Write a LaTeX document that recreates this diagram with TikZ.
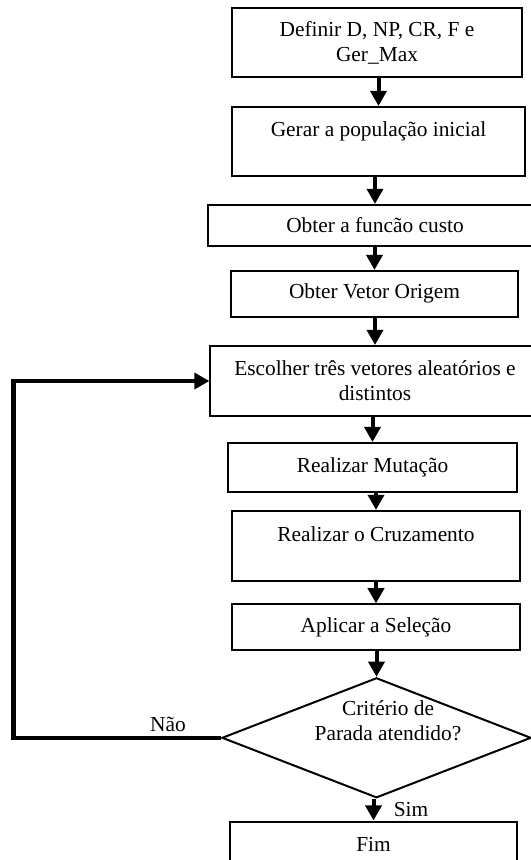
\documentclass[tikz,border=0pt]{standalone}
\usepackage{fontspec}
\setmainfont{Liberation Serif}
\usetikzlibrary{shapes.geometric,arrows.meta}

\begin{document}
\begin{tikzpicture}[x=0.025cm, y=-0.025cm,
	font=\fontsize{15.2}{17.6}\selectfont,
	caixa/.style={draw, line width=0.05cm, align=center, inner sep=0pt},
	seta/.style={line width=0.1cm, -{Triangle[width=0.4cm,length=0.38cm]}},
	decisao/.style={draw, diamond, line width=0.05cm, inner sep=0pt, minimum width=7.725cm, minimum height=3cm}]
	\useasboundingbox (0,0) rectangle (531,860);
	\clip (0,0) rectangle (531,860);

	% boxes
	\node[caixa, minimum width=7.25cm, minimum height=1.725cm] (b1) at (377,42.5) {Definir D, NP, CR, F e\\Ger\_Max};
	\node[caixa, minimum width=7.325cm, minimum height=1.725cm] (b2) at (378.5,141.5) {Gerar a população inicial\\};
	\node[caixa, minimum width=8.35cm, minimum height=1.025cm] (b3) at (375,225.5) {Obter a funcão custo};
	\node[caixa, minimum width=7.175cm, minimum height=1.14cm] (b4) at (374.5,293.8) {Obter Vetor Origem};
	\node[caixa, minimum width=8.225cm, minimum height=1.75cm] (b5) at (375,381) {Escolher três vetores aleatórios e\\distintos};
	\node[caixa, minimum width=7.2cm, minimum height=1.215cm] (b6) at (372.5,467.3) {Realizar Mutação};
	\node[caixa, minimum width=7.2cm, minimum height=1.75cm] (b7) at (376,546) {Realizar o Cruzamento\\};
	\node[caixa, minimum width=7.2cm, minimum height=1.15cm] (b8) at (376,627.4) {Aplicar a Seleção};
	\node[decisao] (dia) at (376.5,737.8) {};
	\node[align=center, inner sep=0pt] (diaTxt) at (388,721) {Critério de\\Parada atendido?};
	\node[caixa, minimum width=7.175cm, minimum height=1.125cm] (fim) at (373.5,844) {Fim};

	% arrows
	\foreach \a/\b in {b1/b2,b2/b3,b3/b4,b4/b5,b5/b6,b6/b7,b7/b8,b8/dia,dia/fim}{
	\draw[seta] (\a.south -| \b.north) -- (\b.north);}

	% loop back
	\coordinate (volta) at (13.5,737.8);
	\draw[seta] (dia.west) -- (volta) |- (b5.west);
	\node (nao) at (168,724) {Não};
	\node (sim) at (411,810) {Sim};
\end{tikzpicture}
\end{document}
